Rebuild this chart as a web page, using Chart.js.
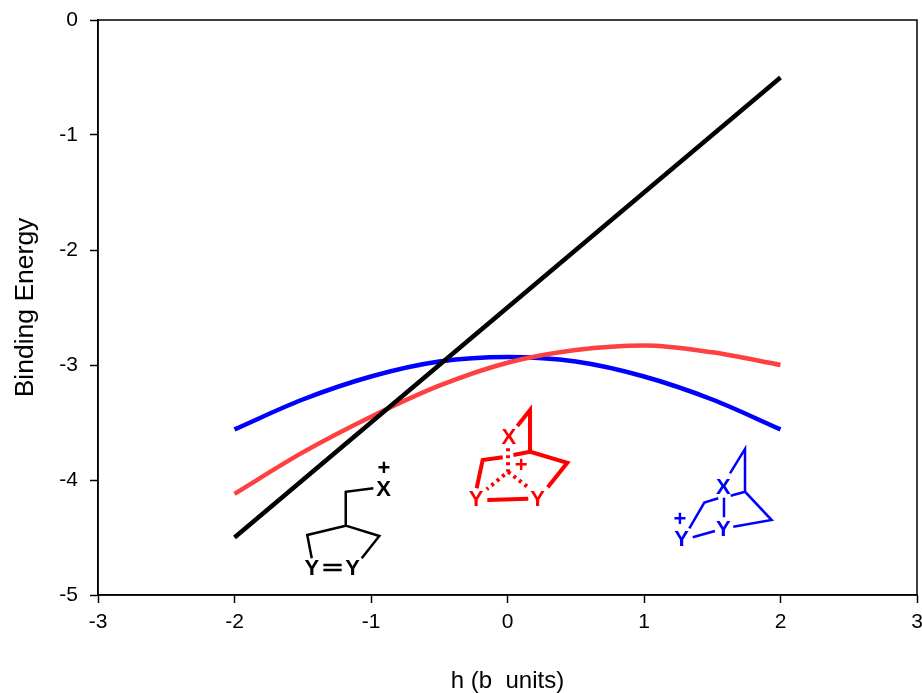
<!DOCTYPE html>
<html>
<head>
<meta charset="utf-8">
<title>Binding Energy</title>
<script src="https://cdn.jsdelivr.net/npm/chart.js@4"></script>
<style>
  html, body { margin: 0; padding: 0; background: #fff; overflow: hidden; }
  canvas { display: block; }
</style>
</head>
<body>
<canvas id="graph" width="922" height="693"></canvas>
<script>
const hValues = [-2, -1.5, -1, -0.5, 0, 0.5, 1, 1.5, 2];
const blackValues = [-4.5, -4, -3.5, -3, -2.5, -2, -1.5, -1, -0.5];
const redValues = [-4.12, -3.76, -3.45, -3.18, -2.98, -2.87, -2.83, -2.89, -3];
const blueValues = [-3.56, -3.3, -3.1, -2.97, -2.93, -2.97, -3.1, -3.3, -3.56];

const xTicks = [-3, -2, -1, 0, 1, 2, 3];
const yTicks = [0, -1, -2, -3, -4, -5];

// molecule sketches, in axis units, null = pen up
const blackBondX = [-0.983, -1.185, -1.185, -1.467, -1.434, null, -1.185, -0.939, -1.068, null, -1.349, -1.215, null, -1.349, -1.215];
const blackBondY = [-4.072, -4.102, -4.397, -4.478, -4.681, null, -4.397, -4.487, -4.681, null, -4.739, -4.739, null, -4.783, -4.783];

const redBondX = [0.072, 0.165, 0.165, 0.438, 0.295, null, 0.165, 0.043, null, -0.035, -0.182, -0.226, null, -0.148, 0.152];
const redBondY = [-3.53, -3.391, -3.754, -3.85, -4.063, null, -3.754, -3.783, null, -3.803, -3.826, -4.072, null, -4.174, -4.163];
const redDotX = [0.004, 0.004, -0.152, null, 0.004, 0.16];
const redDotY = [-3.724, -3.928, -4.081, null, -3.928, -4.072];

const blueBondX = [1.63, 1.74, 1.74, 1.935, 1.654, null, 1.74, 1.635, null, 1.544, 1.442, 1.332, null, 1.357, 1.52, null, 1.586, 1.586];
const blueBondY = [-3.942, -3.73, -4.102, -4.348, -4.406, null, -4.102, -4.137, null, -4.159, -4.197, -4.42, null, -4.498, -4.443, null, -4.154, -4.324];

const atomText = ["+", "X", "Y", "Y", "X", "+", "Y", "Y", "X", "+", "Y", "Y"];
const atomX = [-0.905, -0.907, -1.434, -1.134, 0.009, 0.101, -0.231, 0.221, 1.581, 1.264, 1.276, 1.581];
const atomY = [-3.904, -4.09, -4.775, -4.775, -3.63, -3.876, -4.175, -4.17, -4.065, -4.348, -4.525, -4.43];
const atomColor = ["#000", "#000", "#000", "#000", "#f00", "#f00", "#f00", "#f00", "#00f", "#00f", "#00f", "#00f"];

const FONT = '"Liberation Sans", Arial, sans-serif';

function points(xs, ys) {
  return xs.map((x, i) => ({ x: x, y: ys[i] }));
}

function curve(values, color) {
  return {
    data: points(hValues, values),
    borderColor: color,
    borderWidth: 4.5,
    cubicInterpolationMode: "monotone",
    pointRadius: 0,
    borderCapStyle: "butt",
  };
}

function bonds(xs, ys, color, width, dash) {
  return {
    data: points(xs, ys),
    borderColor: color,
    borderWidth: width,
    borderDash: dash || [],
    tension: 0,
    pointRadius: 0,
    spanGaps: false,
  };
}

// fixes the plot area, the last tick label hangs off the page in the original
function fixY(scale) {
  scale.width = 88;
  scale.paddingTop = 0;
  scale.paddingBottom = 0;
}
function fixX(scale) {
  scale.height = 98;
  scale.paddingLeft = 0;
  scale.paddingRight = 0;
}

const frameAndAtoms = {
  id: "frameAndAtoms",
  afterDatasetsDraw(chart) {
    const ctx = chart.ctx;
    const area = chart.chartArea;
    ctx.save();
    ctx.strokeStyle = "#000";
    ctx.lineWidth = 1.5;
    ctx.strokeRect(area.left, area.top, area.width, area.height);
    ctx.font = 'bold 22px ' + FONT;
    ctx.textAlign = "center";
    ctx.textBaseline = "middle";
    atomText.forEach((t, i) => {
      ctx.fillStyle = atomColor[i];
      ctx.fillText(t, chart.scales.x.getPixelForValue(atomX[i]), chart.scales.y.getPixelForValue(atomY[i]));
    });
    ctx.restore();
  },
};

const graph = document.getElementById("graph");

new Chart(graph, {
  type: "line",
  data: {
    datasets: [
      curve(blackValues, "#000000"),
      curve(redValues, "#ff4040"),
      curve(blueValues, "#0000ff"),
      bonds(blackBondX, blackBondY, "#000000", 2.5),
      bonds(redBondX, redBondY, "#ff0000", 4),
      bonds(redDotX, redDotY, "#ff0000", 4, [3, 4]),
      bonds(blueBondX, blueBondY, "#0000ff", 2.5),
    ],
  },
  options: {
    responsive: false,
    animation: false,
    layout: { padding: { top: 20, right: 5, bottom: 0, left: 10 } },
    plugins: { legend: { display: false }, tooltip: { enabled: false } },
    scales: {
      x: {
        type: "linear",
        min: -3,
        max: 3,
        afterFit: fixX,
        afterBuildTicks(scale) {
          scale.ticks = xTicks.map((v) => ({ value: v }));
        },
        grid: { drawOnChartArea: false, tickLength: 8, tickColor: "#000", tickWidth: 1.5 },
        border: { color: "#000", width: 1.5 },
        ticks: {
          color: "#000",
          font: { family: FONT, size: 21 },
          maxRotation: 0,
          autoSkip: false,
          padding: 7,
        },
        title: {
          display: true,
          text: "h (b  units)",
          color: "#000",
          font: { family: FONT, size: 24 },
          padding: { top: 24, bottom: -3 },
        },
      },
      y: {
        type: "linear",
        min: -5,
        max: 0,
        afterFit: fixY,
        afterBuildTicks(scale) {
          scale.ticks = yTicks.map((v) => ({ value: v }));
        },
        grid: { drawOnChartArea: false, tickLength: 8, tickColor: "#000", tickWidth: 1.5 },
        border: { color: "#000", width: 1.5 },
        ticks: {
          color: "#000",
          font: { family: FONT, size: 21 },
          autoSkip: false,
          padding: 12,
        },
        title: {
          display: true,
          text: "Binding Energy",
          color: "#000",
          font: { family: FONT, size: 26.5 },
          padding: { top: 0, bottom: 0 },
        },
      },
    },
  },
  plugins: [frameAndAtoms],
});
</script>
</body>
</html>
